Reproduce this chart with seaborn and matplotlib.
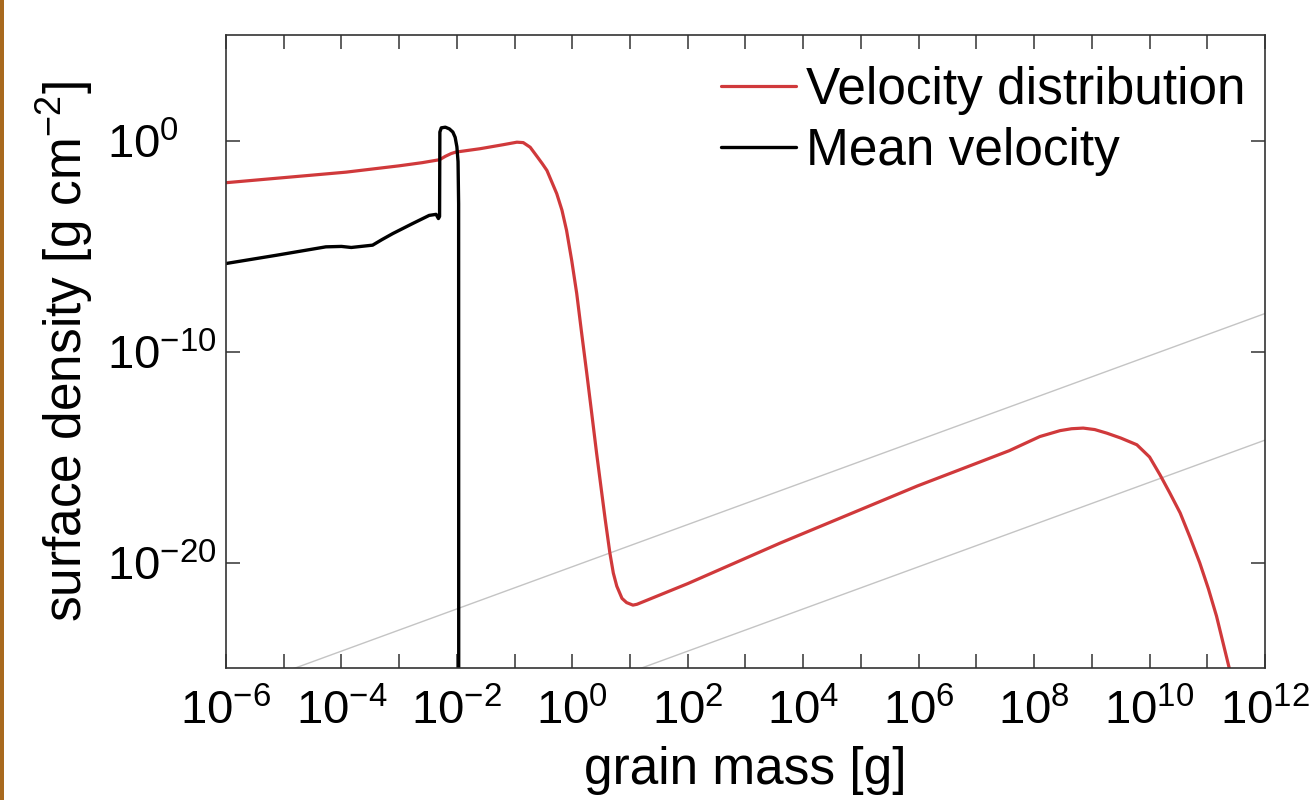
import numpy as np
import pandas as pd
import matplotlib
matplotlib.use("Agg")
import matplotlib.pyplot as plt
from matplotlib.patches import Rectangle
from matplotlib.ticker import NullLocator
import seaborn as sns

# ---------------- data (log10 values) ----------------
vd_logm = [-6.0, -5.0, -3.92, -3.0, -2.6, -2.3, -2.2, -2.1, -2.02, -1.6, -1.2, -0.96,
           -0.85, -0.73, -0.6, -0.52, -0.44, -0.27, -0.18, -0.10, -0.01, 0.076, 0.16,
           0.25, 0.33, 0.42, 0.5, 0.57, 0.65, 0.71, 0.77, 0.86, 0.94, 1.05, 1.12, 1.3,
           2.0, 3.6, 5.98, 7.0, 7.57, 8.1, 8.45, 8.65, 8.85, 9.05, 9.26, 9.5, 9.78,
           10.0, 10.18, 10.35, 10.53, 10.7, 10.87, 11.02, 11.16, 11.38, 11.5]
vd_logs = [-2.0, -1.76, -1.5, -1.2, -1.05, -0.91, -0.75, -0.62, -0.55, -0.39, -0.2, -0.08,
           -0.1, -0.32, -0.8, -1.1, -1.42, -2.52, -3.3, -4.26, -5.7, -7.25, -9.1,
           -11.03, -12.8, -14.81, -16.5, -17.97, -19.54, -20.5, -21.12, -21.7, -21.9, -22.02, -21.98, -21.78,
           -21.0, -19.08, -16.37, -15.3, -14.7, -14.03, -13.75, -13.66, -13.63, -13.7, -13.87, -14.1, -14.42,
           -15.0, -15.84, -16.7, -17.65, -18.8, -20.02, -21.25, -22.54, -25.0, -26.2]

mv_logm = [-6.0, -5.13, -4.27, -4.0, -3.83, -3.46, -3.3, -3.11, -2.77, -2.48, -2.36,
           -2.32, -2.30, -2.295, -2.27, -2.2, -2.13, -2.07, -2.03, -2.0, -1.98, -1.97, -1.968]
mv_logs = [-5.83, -5.44, -5.04, -5.02, -5.07, -4.96, -4.7, -4.41, -3.94, -3.55, -3.5,
           -3.70, -3.6, 0.4, 0.6, 0.63, 0.55, 0.4, 0.15, -0.3, -1.0, -3.0, -30.0]

# grey reference power laws  s ~ m^1
ref_slope = 1.0
ref_offsets_log = [-20.2, -26.2]
ref_logm_span = [-6.0, 12.0]

x_tick_exps = list(range(-6, 13))
x_label_exps = [-6, -4, -2, 0, 2, 4, 6, 8, 10, 12]
y_tick_exps = [-20, -10, 0]

series_names = ["Velocity distribution", "Mean velocity"]
RED = "#d0393b"
BLACK = "#000000"
GREY = "#c4c4c4"

# ---------------- style ----------------
sns.set_theme(style="ticks")
plt.rcParams["font.family"] = ["Liberation Sans", "DejaVu Sans"]
plt.rcParams["mathtext.fontset"] = "custom"
plt.rcParams["mathtext.rm"] = "Liberation Sans"
plt.rcParams["mathtext.it"] = "Liberation Sans:italic"
plt.rcParams["mathtext.bf"] = "Liberation Sans:bold"
plt.rcParams["axes.unicode_minus"] = True
plt.rcParams["text.color"] = "black"
plt.rcParams["axes.labelcolor"] = "black"

W, H = 1312, 800
fig = plt.figure(figsize=(W / 100, H / 100), dpi=100)
fig.patch.set_facecolor("white")
fig.patches.append(Rectangle((0, 0), 4 / W, 1, transform=fig.transFigure,
                             facecolor="#a8691e", edgecolor="none"))

ax = fig.add_axes([226 / W, 1 - 668 / H, (1265 - 226) / W, (668 - 35) / H])
ax.set_xscale("log")
ax.set_yscale("log")

# reference lines
rows = []
for i, off in enumerate(ref_offsets_log):
    for lm in ref_logm_span:
        rows.append({"line": i, "m": 10.0 ** lm, "s": 10.0 ** (off + ref_slope * lm)})
ref_df = pd.DataFrame(rows)
sns.lineplot(data=ref_df, x="m", y="s", units="line", estimator=None, color=GREY,
             linewidth=1.0, ax=ax, legend=False)

vd_df = pd.DataFrame({"m": 10.0 ** np.array(vd_logm), "s": 10.0 ** np.array(vd_logs)})
mv_df = pd.DataFrame({"m": 10.0 ** np.array(mv_logm), "s": 10.0 ** np.array(mv_logs)})

sns.lineplot(data=vd_df, x="m", y="s", estimator=None, sort=False, color=RED,
             linewidth=2.3, ax=ax, label=series_names[0])
sns.lineplot(data=mv_df, x="m", y="s", estimator=None, sort=False, color=BLACK,
             linewidth=2.4, ax=ax, label=series_names[1])

ax.set_xlim(1e-6, 1e12)
ax.set_ylim(1e-25, 1e5)

xt = [10.0 ** e for e in x_tick_exps]
xl = [(r"$10^{%d}$" % e) if e in x_label_exps else "" for e in x_tick_exps]
ax.set_xticks(xt, xl)
yt = [10.0 ** e for e in y_tick_exps]
yl = [r"$10^{%d}$" % e for e in y_tick_exps]
ax.set_yticks(yt, yl)
ax.xaxis.set_minor_locator(NullLocator())
ax.yaxis.set_minor_locator(NullLocator())

ax.tick_params(which="major", direction="in", top=True, right=True, length=10,
               width=1.1, color="#333333", labelsize=34, labelcolor="black")
ax.tick_params(axis="x", pad=15)
ax.tick_params(axis="y", pad=86)
for lbl in ax.get_yticklabels():
    lbl.set_horizontalalignment("left")

for sp in ax.spines.values():
    sp.set_color("#333333")
    sp.set_linewidth(1.2)

ax.set_xlabel("grain mass [g]", fontsize=37, color="black")
ax.xaxis.set_label_coords(0.5, -0.123)
ax.set_ylabel(r"surface density [g cm$^{-2}$]", fontsize=37, color="black")
ax.yaxis.set_label_coords(-0.126, 0.5)

ax.legend(loc="upper left", bbox_to_anchor=(721 / W, 1 - 66 / H),
          bbox_transform=fig.transFigure, frameon=False, fontsize=37,
          handlelength=1.45, handletextpad=0.2, borderpad=0, labelspacing=0.23,
          borderaxespad=0)

fig.savefig("out.png", dpi=100)
